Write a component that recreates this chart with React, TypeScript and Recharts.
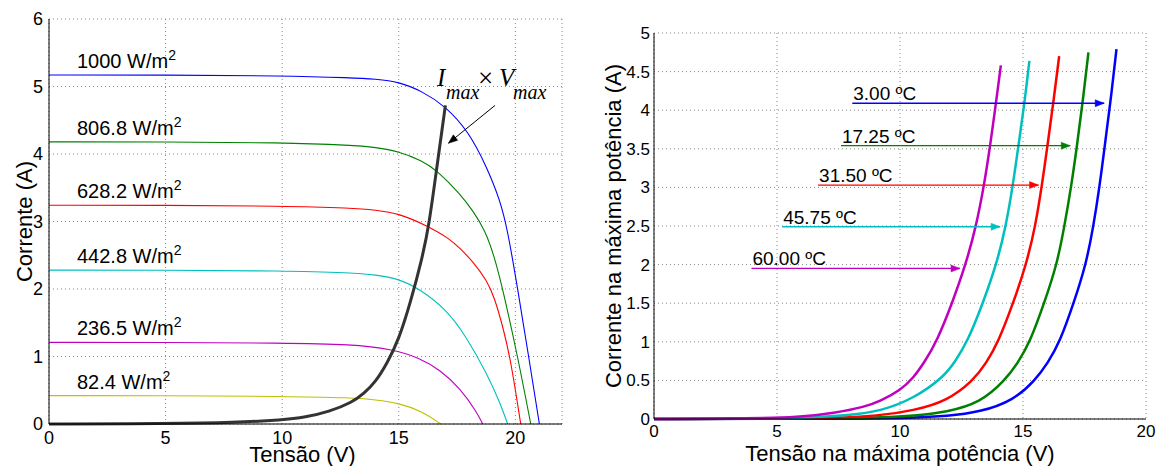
import React from 'react';
import { LineChart, Line, XAxis, YAxis, CartesianGrid, ReferenceLine, ReferenceDot } from 'recharts';

const SANS = '"Liberation Sans", Arial, Helvetica, sans-serif';
const SERIF = '"Liberation Serif", "Times New Roman", serif';

// ---- left chart: I-V curves for each irradiance ----
const irradLabels = ['1000', '806.8', '628.2', '442.8', '236.5', '82.4'];
const irradColors = ['#0000ff', '#008000', '#ff0000', '#00bfbf', '#bf00bf', '#bfbf00'];
const irradIsc = [5.17, 4.18, 3.24, 2.28, 1.21, 0.42];
const irradLabelX = 1.2;

const iv1000 = [[0, 5.17], [5, 5.17], [10, 5.16], [13, 5.13], [14, 5.11], [15, 5.07], [16, 4.93], [17, 4.71], [18, 4.33], [18.77, 3.81], [19.34, 3.32], [19.67, 2.87], [20.1, 2.0], [20.57, 1.0], [21.03, 0]];
const iv806 = [[0, 4.18], [5, 4.18], [10, 4.17], [13, 4.13], [14, 4.1], [15, 4.04], [16, 3.9], [16.63, 3.76], [17.63, 3.41], [18.2, 3.15], [18.7, 2.87], [19.1, 2.48], [19.46, 2.0], [20.1, 1.0], [20.66, 0]];
const iv628 = [[0, 3.24], [5, 3.24], [10, 3.23], [13, 3.2], [14, 3.17], [15, 3.12], [16.2, 2.94], [17.2, 2.74], [17.63, 2.6], [18.2, 2.4], [18.77, 2.13], [19.1, 1.88], [19.48, 1.42], [19.8, 0.95], [20.23, 0]];
const iv442 = [[0, 2.28], [5, 2.28], [10, 2.27], [13, 2.24], [14, 2.21], [15, 2.15], [15.9, 2.0], [17.06, 1.69], [17.9, 1.29], [18.77, 0.75], [19.3, 0.35], [19.67, 0]];
const iv236 = [[0, 1.21], [5, 1.21], [10, 1.2], [13, 1.18], [14.7, 1.11], [15.9, 0.98], [16.77, 0.8], [17.63, 0.53], [18.34, 0.18], [18.6, 0]];
const iv82 = [[0, 0.42], [5, 0.42], [10, 0.41], [13, 0.39], [14, 0.36], [15, 0.31], [16, 0.19], [16.8, 0]];
const ivMax = [[0, 0], [5, 0.005], [8, 0.02], [10, 0.06], [11, 0.1], [12, 0.18], [13, 0.32], [13.5, 0.45], [14, 0.62], [14.5, 0.9], [15, 1.25], [15.5, 1.8], [16, 2.45], [16.3, 2.95], [16.63, 3.8], [17, 4.72]];
const ivCurves = [iv1000, iv806, iv628, iv442, iv236, iv82];

const leftXTicks = [0, 5, 10, 15, 20];
const leftYTicks = [0, 1, 2, 3, 4, 5, 6];
const maxArrowFrom = { v: 19.13, i: 4.72 };
const maxArrowTo = { v: 17.13, i: 4.16 };

// ---- right chart: max power point per temperature ----
const tempLabels = ['3.00 ºC', '17.25 ºC', '31.50 ºC', '45.75 ºC', '60.00 ºC'];
const tempColors = ['#0000ff', '#008000', '#ff0000', '#00bfbf', '#bf00bf'];
const arrowY = [4.09, 3.54, 3.03, 2.49, 1.95];
const arrowStart = [8.06, 7.6, 6.67, 5.21, 3.96];
const arrowEnd = [18.3, 16.92, 15.63, 14.07, 12.44];

const mp3 = [[0, 0], [8, 0.003], [10.54, 0.015], [11.9, 0.035], [13.26, 0.09], [14.61, 0.24], [15.49, 0.5], [16.02, 0.73], [16.5, 1.0], [17.06, 1.5], [17.56, 2.0], [17.86, 2.49], [18.12, 3.03], [18.32, 3.53], [18.55, 4.09], [18.8, 4.79]];
const mp17 = [[0, 0], [6, 0.004], [8, 0.01], [9.18, 0.02], [10.54, 0.04], [11.9, 0.09], [13.26, 0.21], [14.27, 0.5], [14.8, 0.73], [15.29, 1.0], [15.86, 1.5], [16.38, 2.0], [16.68, 2.49], [16.97, 3.03], [17.19, 3.53], [17.42, 4.09], [17.66, 4.75]];
const mp31 = [[0, 0], [5, 0.004], [7, 0.012], [9.18, 0.04], [10.54, 0.11], [11.9, 0.23], [12.98, 0.5], [13.5, 0.72], [14.0, 1.0], [14.6, 1.5], [15.13, 2.0], [15.5, 2.49], [15.77, 3.03], [15.99, 3.53], [16.23, 4.09], [16.47, 4.7]];
const mp45 = [[0, 0], [4, 0.004], [6, 0.012], [8, 0.05], [9.18, 0.1], [10.54, 0.26], [11.8, 0.55], [12.25, 0.75], [12.74, 1.0], [13.37, 1.5], [13.92, 2.0], [14.3, 2.49], [14.59, 3.03], [14.81, 3.53], [15.06, 4.09], [15.26, 4.64]];
const mp60 = [[0, 0], [3, 0.004], [5, 0.015], [6, 0.03], [7.3, 0.075], [8.6, 0.16], [9.18, 0.23], [10, 0.37], [10.54, 0.53], [11, 0.74], [11.49, 1.0], [12.12, 1.5], [12.67, 2.0], [13.09, 2.49], [13.42, 3.03], [13.66, 3.53], [13.9, 4.09], [14.1, 4.58]];
const mpCurves = [mp3, mp17, mp31, mp45, mp60];

const rightXTicks = [0, 5, 10, 15, 20];
const rightYTicks = [0, 0.5, 1, 1.5, 2, 2.5, 3, 3.5, 4, 4.5, 5];

const toPts = (arr: number[][]) => arr.map(([v, i]) => ({ v, i }));

const XTitle = (props: any) => {
  const vb = props.viewBox || { x: 0, y: 0, width: 0, height: 0 };
  return (
    <text x={vb.x + vb.width / 2 + (props.shift || 0)} y={vb.y + props.dy} textAnchor="middle" fontSize={22} fontFamily={SANS} fill="#000">
      {props.value}
    </text>
  );
};

const YTitle = (props: any) => {
  const vb = props.viewBox || { x: 0, y: 0, width: 0, height: 0 };
  const cx = vb.x + props.dx;
  const cy = vb.y + vb.height / 2;
  return (
    <text x={cx} y={cy} transform={`rotate(-90 ${cx} ${cy})`} textAnchor="middle" fontSize={22} fontFamily={SANS} fill="#000">
      {props.value}
    </text>
  );
};

const Arrowhead = ({ cx, cy, color, angle = 0 }: any) => (
  <polygon
    points="0,0 -9,-3.5 -9,3.5"
    transform={`translate(${cx},${cy}) rotate(${angle})`}
    fill={color}
    stroke={color}
    strokeWidth={0.5}
  />
);

const MaxLabel = ({ cx, cy }: any) => (
  <g fontFamily={SERIF} fill="#000">
    <text x={cx - 58} y={cy - 19} fontSize={25} fontStyle="italic">I</text>
    <text x={cx - 49} y={cy - 6} fontSize={20} fontStyle="italic">max</text>
    <text x={cx - 17} y={cy - 18} fontSize={27}>×</text>
    <text x={cx + 4} y={cy - 19} fontSize={25} fontStyle="italic">V</text>
    <text x={cx + 18} y={cy - 6} fontSize={20} fontStyle="italic">max</text>
  </g>
);

const tickStyle = (size: number) => ({ fill: '#000', fontSize: size, fontFamily: SANS });

function IVChart() {
  return (
    <LineChart width={580} height={466} margin={{ top: 19, right: 18, bottom: 0, left: 0 }}>
      <CartesianGrid stroke="#888" strokeDasharray="1 3" />
      <XAxis
        dataKey="v"
        type="number"
        domain={[0, 22]}
        ticks={leftXTicks}
        allowDataOverflow
        height={42}
        tickLine={false}
        tickSize={0}
        tickMargin={7}
        axisLine={{ stroke: '#000' }}
        tick={tickStyle(18)}
        label={{ value: 'Tensão (V)', content: (p: any) => <XTitle {...p} value="Tensão (V)" dy={38} shift={-3} /> }}
      />
      <XAxis xAxisId="bm" dataKey="v" type="number" domain={[0, 22]} ticks={leftXTicks} height={0} mirror tick={false} tickSize={5} axisLine={false} tickLine={{ stroke: '#000' }} />
      <XAxis xAxisId="top" orientation="top" dataKey="v" type="number" domain={[0, 22]} ticks={leftXTicks} height={0} mirror tick={false} tickSize={5} axisLine={{ stroke: '#000' }} tickLine={{ stroke: '#000' }} />
      <YAxis
        type="number"
        domain={[0, 6]}
        ticks={leftYTicks}
        width={49}
        tickLine={false}
        tickSize={0}
        tickMargin={6}
        axisLine={{ stroke: '#000' }}
        tick={tickStyle(18)}
        label={{ value: 'Corrente (A)', content: (p: any) => <YTitle {...p} value="Corrente (A)" dx={32} /> }}
      />
      <YAxis yAxisId="lm" type="number" domain={[0, 6]} ticks={leftYTicks} width={0} mirror tick={false} tickSize={5} axisLine={false} tickLine={{ stroke: '#000' }} />
      <YAxis yAxisId="right" orientation="right" type="number" domain={[0, 6]} ticks={leftYTicks} width={0} mirror tick={false} tickSize={5} axisLine={{ stroke: '#000' }} tickLine={{ stroke: '#000' }} />

      {ivCurves.map((c, k) => (
        <Line
          key={irradLabels[k]}
          data={toPts(c)}
          dataKey="i"
          type="basis"
          stroke={irradColors[k]}
          strokeWidth={1.1}
          dot={false}
          isAnimationActive={false}
        />
      ))}
      <Line data={toPts(ivMax)} dataKey="i" type="basis" stroke="#333" strokeWidth={3} dot={false} isAnimationActive={false} />

      {irradLabels.map((lab, k) => (
        <ReferenceDot
          key={`lab-${lab}`}
          x={irradLabelX}
          y={irradIsc[k]}
          r={1}
          shape={(p: any) => (
            <text x={p.cx} y={p.cy - 7} fontSize={20} fontFamily={SANS} fill="#000">
              {lab} W/m<tspan dy={-8} fontSize={14}>2</tspan>
            </text>
          )}
        />
      ))}

      <ReferenceLine
        segment={[{ x: maxArrowFrom.v, y: maxArrowFrom.i }, { x: maxArrowTo.v, y: maxArrowTo.i }]}
        stroke="#000"
        strokeWidth={1}
      />
      <ReferenceDot x={maxArrowTo.v} y={maxArrowTo.i} r={1} shape={(p: any) => <Arrowhead cx={p.cx} cy={p.cy} color="#000" angle={141.6} />} />
      <ReferenceDot x={maxArrowFrom.v} y={maxArrowFrom.i} r={1} shape={(p: any) => <MaxLabel cx={p.cx} cy={p.cy} />} />
    </LineChart>
  );
}

function MPPChart() {
  return (
    <LineChart width={577} height={466} margin={{ top: 33, right: 11, bottom: 0, left: 0 }}>
      <CartesianGrid stroke="#888" strokeDasharray="1 3" />
      <XAxis
        dataKey="v"
        type="number"
        domain={[0, 20]}
        ticks={rightXTicks}
        allowDataOverflow
        height={47}
        tickLine={false}
        tickSize={0}
        tickMargin={6}
        axisLine={{ stroke: '#000' }}
        tick={tickStyle(17)}
        label={{ value: 'Tensão na máxima potência (V)', content: (p: any) => <XTitle {...p} value="Tensão na máxima potência (V)" dy={42} /> }}
      />
      <XAxis xAxisId="bm" dataKey="v" type="number" domain={[0, 20]} ticks={rightXTicks} height={0} mirror tick={false} tickSize={5} axisLine={false} tickLine={{ stroke: '#000' }} />
      <XAxis xAxisId="top" orientation="top" dataKey="v" type="number" domain={[0, 20]} ticks={rightXTicks} height={0} mirror tick={false} tickSize={5} axisLine={{ stroke: '#000' }} tickLine={{ stroke: '#000' }} />
      <YAxis
        type="number"
        domain={[0, 5]}
        ticks={rightYTicks}
        width={74}
        tickLine={false}
        tickSize={0}
        tickMargin={4}
        axisLine={{ stroke: '#000' }}
        tick={tickStyle(17)}
        label={{ value: 'Corrente na máxima potência (A)', content: (p: any) => <YTitle {...p} value="Corrente na máxima potência (A)" dx={41} /> }}
      />
      <YAxis yAxisId="lm" type="number" domain={[0, 5]} ticks={rightYTicks} width={0} mirror tick={false} tickSize={5} axisLine={false} tickLine={{ stroke: '#000' }} />
      <YAxis yAxisId="right" orientation="right" type="number" domain={[0, 5]} ticks={rightYTicks} width={0} mirror tick={false} tickSize={5} axisLine={{ stroke: '#000' }} tickLine={{ stroke: '#000' }} />

      {mpCurves.map((c, k) => (
        <Line
          key={tempLabels[k]}
          data={toPts(c)}
          dataKey="i"
          type="basis"
          stroke={tempColors[k]}
          strokeWidth={2.5}
          dot={false}
          isAnimationActive={false}
        />
      ))}

      {tempLabels.map((lab, k) => (
        <React.Fragment key={`arr-${lab}`}>
          <ReferenceLine
            segment={[{ x: arrowStart[k], y: arrowY[k] }, { x: arrowEnd[k], y: arrowY[k] }]}
            stroke={tempColors[k]}
            strokeWidth={1.3}
          />
          <ReferenceDot x={arrowEnd[k]} y={arrowY[k]} r={1} shape={(p: any) => <Arrowhead cx={p.cx} cy={p.cy} color={tempColors[k]} />} />
          <ReferenceDot
            x={arrowStart[k]}
            y={arrowY[k]}
            r={1}
            shape={(p: any) => (
              <text x={p.cx + 1} y={p.cy - 3} fontSize={19} fontFamily={SANS} fill="#000">
                {lab}
              </text>
            )}
          />
        </React.Fragment>
      ))}
    </LineChart>
  );
}

export default function App() {
  return (
    <div style={{ position: 'absolute', left: 0, top: 0, width: 1157, height: 466, background: '#fff', display: 'flex', fontFamily: SANS }}>
      <IVChart />
      <MPPChart />
    </div>
  );
}
